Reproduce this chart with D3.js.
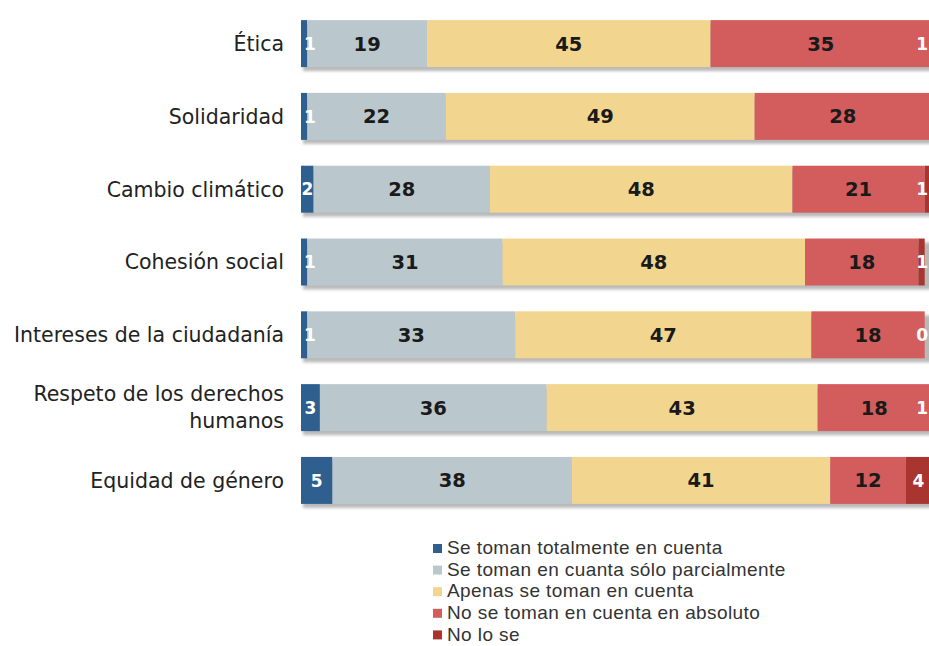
<!DOCTYPE html>
<meta charset="utf-8">
<script src="https://cdn.jsdelivr.net/npm/d3@7"></script>
<style>
  body {margin:0; background:#fff;}
  svg {display:block;}
</style>
<svg id="chart"></svg>
<script>
// categories top to bottom
const categories=['Ética','Solidaridad','Cambio climático','Cohesión social',
                  'Intereses de la ciudadanía','Respeto de los derechos humanos','Equidad de género'];
const keys=['Se toman totalmente en cuenta','Se toman en cuanta sólo parcialmente',
            'Apenas se toman en cuenta','No se toman en cuenta en absoluto','No lo se'];
const totalmente=[1,1,2,1,1,3,5];
const parcialmente=[19,22,28,31,33,36,38];
const apenas=[45,49,48,48,47,43,41];
const absoluto=[35,28,21,18,18,18,12];
const noLoSe=[1,null,1,1,0,1,4];   // null: no label shown
const colors=['#2f5f8e','#bac8cd','#f2d690','#d35c5d','#a83530'];
const labelColors=['#fff','#1a1a1a','#1a1a1a','#1a1a1a','#fff'];

const W=929,H=646;
const series=[totalmente,parcialmente,apenas,absoluto,noLoSe];
const rows=categories.map((c,i)=>{
  const r={cat:c,idx:i};
  keys.forEach((k,j)=>r[k]=series[j][i]==null?0:series[j][i]);
  return r;});
const stacked=d3.stack().keys(keys)(rows);

const x=d3.scaleLinear().domain([0,100]).range([301,931]);
const y=d3.scaleBand().domain(categories).range([7,517]).paddingInner(0.355).paddingOuter(0.18);

const svg=d3.select('#chart').attr('width',W).attr('height',H);
const defs=svg.append('defs');
defs.append('filter').attr('id','blur').attr('x','-5%').attr('y','-50%')
    .attr('width','110%').attr('height','200%')
    .append('feGaussianBlur').attr('stdDeviation',1.6);

// shadows under bars
svg.append('g').selectAll('rect').data(rows).join('rect')
   .attr('x',x(0)+2).attr('y',d=>y(d.cat)+4)
   .attr('width',x(100)-x(0)).attr('height',y.bandwidth())
   .attr('fill','#8a8a8a').attr('opacity',0.6).attr('filter','url(#blur)');

const layer=svg.append('g').selectAll('g').data(stacked).join('g')
   .attr('fill',(d,i)=>colors[i]);
layer.selectAll('rect').data(d=>d.map(v=>({v:v,cat:v.data.cat}))).join('rect')
   .attr('x',d=>x(d.v[0])).attr('y',d=>y(d.cat))
   .attr('width',d=>x(d.v[1])-x(d.v[0])).attr('height',y.bandwidth());

// value labels (small ones at the right edge are pushed back into view)
function lx(d) {
  const w=x(d[1])-x(d[0]);
  if (x(d[0])+14>W) return {x:W-1,a:'end'};
  return w<12?{x:x(d[0])+3,a:'start'}:{x:(x(d[0])+x(d[1]))/2,a:'middle'};}
stacked.forEach((s,i)=>{
  svg.append('g').selectAll('text')
     .data(s.filter(d=>series[i][d.data.idx]!=null)).join('text')
     .attr('x',d=>lx(d).x).attr('text-anchor',d=>lx(d).a)
     .attr('y',d=>y(d.data.cat)+y.bandwidth()/2)
     .attr('dy','0.36em')
     .attr('font-family','DejaVu Sans, Verdana, sans-serif')
     .attr('font-weight','bold').attr('font-size',i==0||i==4?17:19.5)
     .attr('fill',labelColors[i])
     .text(d=>d[1]-d[0]);});

// category labels
const catLines={'Respeto de los derechos humanos':['Respeto de los derechos','humanos']};
const lab=svg.append('g').attr('font-family','DejaVu Sans, Verdana, sans-serif')
   .attr('font-size',20.5).attr('fill','#222').attr('text-anchor','end');
categories.forEach(c=>{
  const lines=catLines[c]||[c];
  const t=lab.append('text').attr('x',284)
     .attr('y',y(c)+y.bandwidth()/2-(lines.length-1)*13.5);
  lines.forEach((l,k)=>t.append('tspan').attr('x',284).attr('dy',k==0?'0.36em':27).text(l));});

// legend
const leg=svg.append('g').attr('transform','translate(432,548)');
keys.forEach((k,i)=>{
  const g=leg.append('g').attr('transform','translate(0,'+(i*21.6)+')');
  g.append('rect').attr('x',1).attr('y',-4).attr('width',9).attr('height',9).attr('fill',colors[i]);
  g.append('text').attr('x',15).attr('dy','0.33em')
   .attr('font-family','Liberation Sans, Arial, sans-serif').attr('font-size',19)
   .attr('letter-spacing',0.4).attr('fill','#333').text(k);});
</script>
